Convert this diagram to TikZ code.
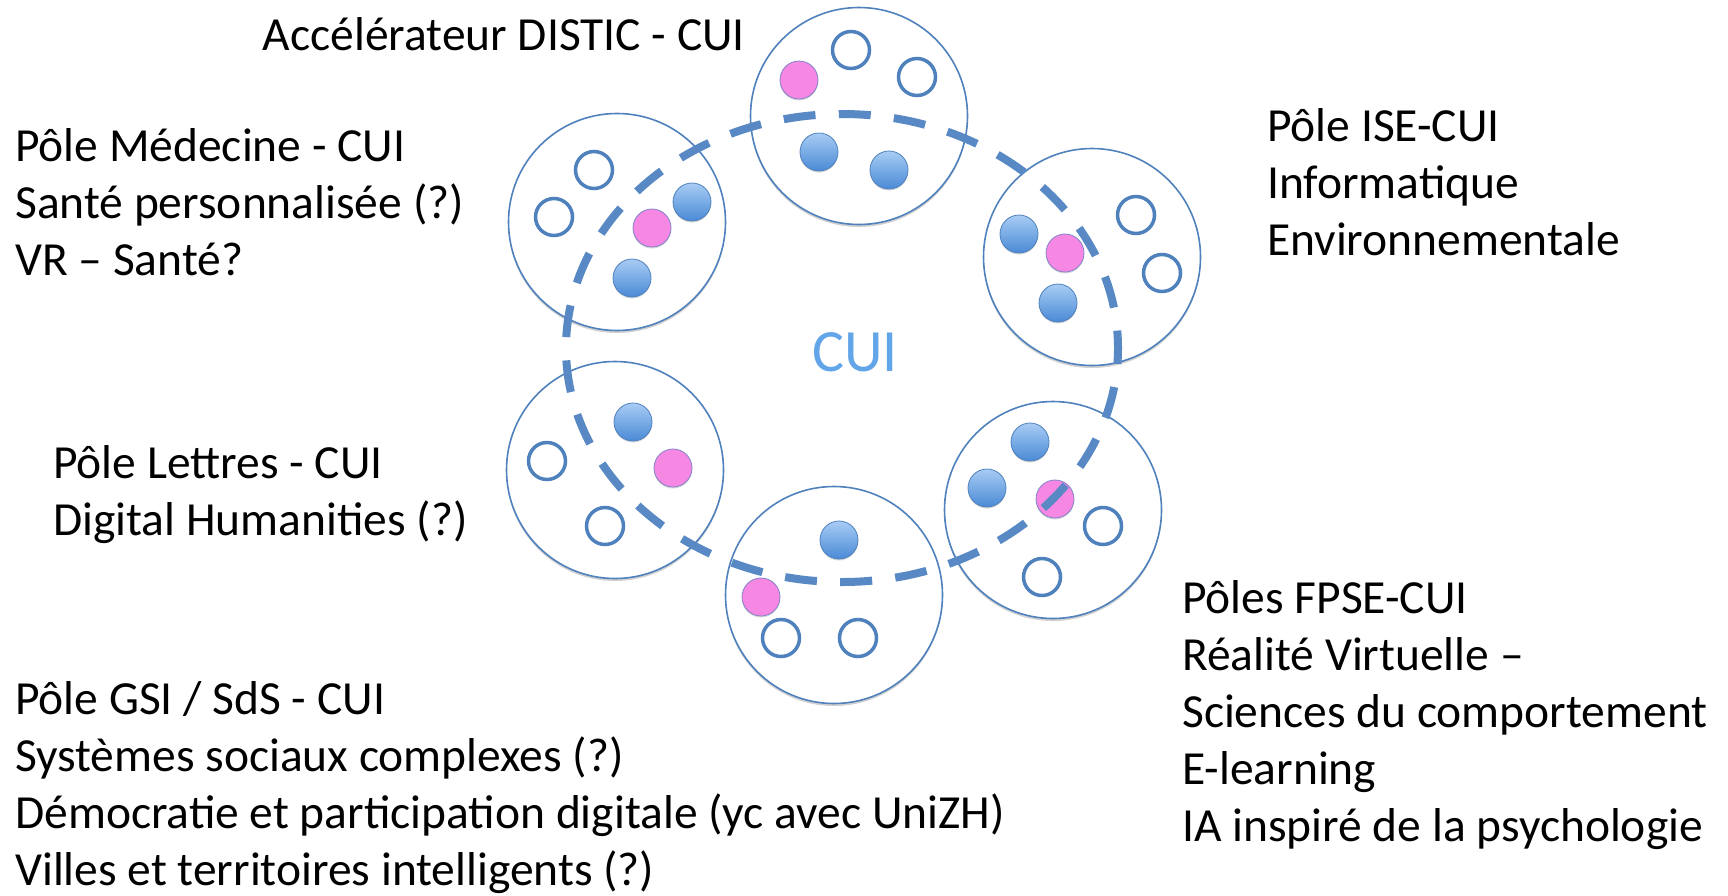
\documentclass[tikz,border=0pt]{standalone}
\usepackage{fontspec}
\setmainfont{Carlito}
\usetikzlibrary{shadows}
\definecolor{ring}{HTML}{4F81BD}
\definecolor{dashc}{HTML}{5889C4}
\definecolor{pinkdot}{HTML}{F687E3}
\definecolor{bluetop}{HTML}{A8CCF4}
\definecolor{bluebot}{HTML}{4A8AD6}
\definecolor{cuitext}{HTML}{62A5E8}
\tikzset{
  pole/.style={circle, draw=ring, line width=1.6pt, fill=white, minimum size=217pt, inner sep=0pt,
    drop shadow={shadow xshift=0pt, shadow yshift=-2.5pt, opacity=0.18, fill=black}},
  bdot/.style={circle, minimum size=38pt, inner sep=0pt, top color=bluetop, bottom color=bluebot,
    draw=ring, line width=0.8pt,
    drop shadow={shadow xshift=0pt, shadow yshift=-1.5pt, opacity=0.15, fill=black}},
  pdot/.style={circle, minimum size=38pt, inner sep=0pt, fill=pinkdot, draw=ring!70!pinkdot, line width=0.8pt,
    drop shadow={shadow xshift=0pt, shadow yshift=-1.5pt, opacity=0.15, fill=black}},
  odot/.style={circle, minimum size=37pt, inner sep=0pt, fill=white, draw=ring, line width=3.5pt},
  lbl/.style={anchor=base west, align=left, inner sep=0pt, font=\fontsize{47.5}{57}\selectfont},
  dashring/.style={draw=dashc, line width=8pt, dash pattern=on 32pt off 23.3pt, dash phase=16pt},
}
\begin{document}
\begin{tikzpicture}[x=1pt,y=-1pt]
\useasboundingbox[fill=white] (0,0) rectangle (1728,895);

% big pole circles
\node[pole] (cA) at (859,116) {};
\node[pole] (cM) at (617,222) {};
\node[pole] (cI) at (1092,257) {};
\node[pole] (cL) at (615,470) {};
\node[pole] (cB) at (834,595) {};
\node[pole] (cF) at (1053,510) {};

% Accelerateur
\node[pdot] (a1) at (799,80) {};
\node[odot] (a2) at (851,50) {};
\node[odot] (a3) at (917,77) {};
\node[bdot] (a4) at (819,152) {};
\node[bdot] (a5) at (889,170) {};
% Medecine
\node[odot] (m1) at (594,170) {};
\node[odot] (m2) at (554,217) {};
\node[bdot] (m3) at (692,202) {};
\node[pdot] (m4) at (652,228) {};
\node[bdot] (m5) at (632,278) {};
% ISE
\node[bdot] (i1) at (1019,234) {};
\node[pdot] (i2) at (1065,253) {};
\node[bdot] (i3) at (1058,303) {};
\node[odot] (i4) at (1136,215) {};
\node[odot] (i5) at (1162,273) {};
% Lettres
\node[bdot] (l1) at (633,422) {};
\node[odot] (l2) at (547,461) {};
\node[pdot] (l3) at (673,468) {};
\node[odot] (l4) at (605,526) {};
% GSI
\node[bdot] (b1) at (839,540) {};
\node[pdot] (b2) at (761,597) {};
\node[odot] (b3) at (781,638) {};
\node[odot] (b4) at (858,638) {};
% FPSE
\node[bdot] (f1) at (1030,442) {};
\node[bdot] (f2) at (987,488) {};
\node[pdot] (f3) at (1055,499) {};
\node[odot] (f4) at (1103,526) {};
\node[odot] (f5) at (1042,577) {};

% dashed CUI ring
\coordinate (ec) at (842,348);
\path[dashring] (ec) ellipse [x radius=276, y radius=234];

\node[text=cuitext, anchor=base, inner sep=0pt, font=\fontsize{60}{72}\selectfont] (cui) at (855,371) {CUI};

% labels (anchor = baseline of the last line)
\node[lbl, anchor=base east] (tA) at (745,50) {Accélérateur DISTIC - CUI};
\node[lbl] (tM) at (15,275) {Pôle Médecine - CUI\\Santé personnalisée (?)\\VR – Santé?};
\node[lbl] (tI) at (1267,255) {Pôle ISE-CUI\\Informatique\\Environnementale};
\node[lbl] (tL) at (53,535) {Pôle Lettres - CUI\\Digital Humanities (?)};
\node[lbl] (tB) at (15,885) {Pôle GSI / SdS - CUI\\Systèmes sociaux complexes (?)\\Démocratie et participation digitale (yc avec UniZH)\\Villes et territoires intelligents (?)};
\node[lbl] (tF) at (1182,841) {Pôles FPSE-CUI\\Réalité Virtuelle –\\Sciences du comportement\\E-learning\\IA inspiré de la psychologie};
\end{tikzpicture}
\end{document}
